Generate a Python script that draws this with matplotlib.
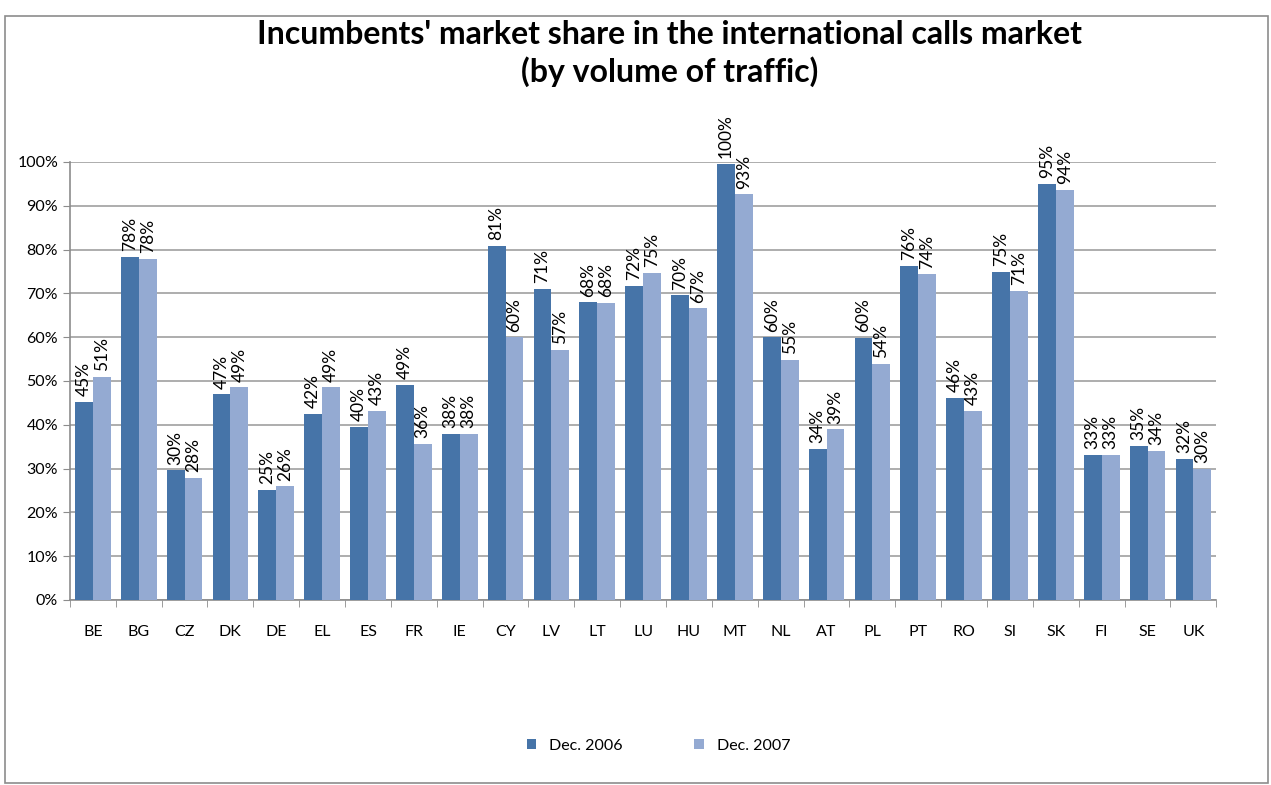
import numpy as np
import matplotlib.pyplot as plt
from matplotlib.patches import Rectangle

plt.rcParams['font.family'] = ['Lato', 'DejaVu Sans']

countries = ["BE", "BG", "CZ", "DK", "DE", "EL", "ES", "FR", "IE", "CY", "LV", "LT", "LU",
             "HU", "MT", "NL", "AT", "PL", "PT", "RO", "SI", "SK", "FI", "SE", "UK"]
dec_2006 = [45.2, 78.3, 29.6, 47.0, 25.1, 42.5, 39.5, 49.1, 37.9, 80.8, 71.0, 68.0, 71.7,
            69.6, 99.6, 60.0, 34.5, 59.8, 76.3, 46.1, 74.9, 95.0, 33.1, 35.2, 32.2]
dec_2007 = [50.9, 77.9, 27.9, 48.6, 26.0, 48.6, 43.2, 35.6, 37.9, 60.0, 57.1, 67.8, 74.7,
            66.6, 92.6, 54.8, 39.0, 53.9, 74.4, 43.2, 70.6, 93.6, 33.1, 34.0, 29.9]
series_names = ["Dec. 2006", "Dec. 2007"]
colors = ["#4674A8", "#94AAD2"]

fig = plt.figure(figsize=(12.71, 7.85), dpi=100)
# chart frame
fig.patches.append(Rectangle((0.004, 0.002), 0.994, 0.978, transform=fig.transFigure,
                             fill=False, edgecolor="#8c8c8c", linewidth=1.2))
ax = fig.add_axes([0.055, 0.2357, 0.902, 0.558])

x = np.arange(len(countries))
w = 0.39
for i, (vals, name, c) in enumerate(zip([dec_2006, dec_2007], series_names, colors)):
    pos = x - w / 2 + i * w
    bars = ax.bar(pos, vals, width=w, color=c, label=name, zorder=3)
    for b, v in zip(bars, vals):
        ax.annotate(f"{v:.0f}%", (b.get_x() + b.get_width() / 2, v), xytext=(0, 4),
                    textcoords="offset points", rotation=90, ha="center", va="bottom",
                    fontsize=12.5, zorder=4)

ax.set_xlim(-0.5, len(countries) - 0.5)
ax.set_ylim(0, 100)
ax.set_yticks(np.arange(0, 101, 10))
ax.set_yticklabels([f"{t}%" for t in range(0, 101, 10)], fontsize=11.5)
ax.set_xticks(x)
ax.set_xticklabels(countries, fontsize=11.5)
ax.set_xticks(np.arange(-0.5, len(countries)), minor=True)
ax.tick_params(axis="x", which="major", length=0, pad=18)
ax.tick_params(axis="x", which="minor", length=5, color="#8c8c8c", direction="out")
ax.tick_params(axis="y", length=5, color="#8c8c8c", direction="out")
ax.grid(axis="y", color="#a0a0a0", linewidth=1.2, zorder=0)
for s in ["top", "right"]:
    ax.spines[s].set_visible(False)
for s in ["left", "bottom"]:
    ax.spines[s].set_color("#8c8c8c")
    ax.spines[s].set_linewidth(1.2)

fig.text(0.527, 0.932, "Incumbents' market share in the international calls market\n(by volume of traffic)",
         ha="center", va="center", fontsize=23, fontweight="bold", linespacing=1.3)

fig.legend(loc="center", bbox_to_anchor=(0.518, 0.05), ncol=2, frameon=False,
           fontsize=11.5, handlelength=0.6, handleheight=0.6, columnspacing=4.5)

fig.savefig("out.png", dpi=100)
